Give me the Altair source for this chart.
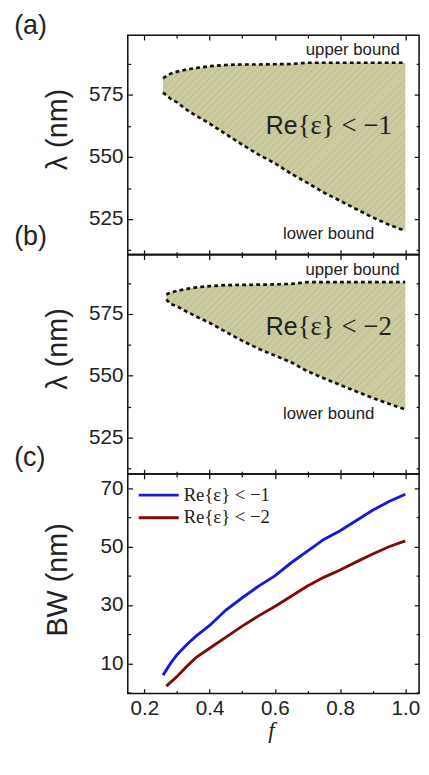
import altair as alt
import pandas as pd

# ---------------- data ----------------
f_a = [0.257, 0.28, 0.30, 0.33, 0.36, 0.40, 0.45, 0.50, 0.55, 0.60, 0.65, 0.70, 0.75, 0.80, 0.85, 0.90, 0.95, 1.00]
upper_a = [581.8, 583.6, 584.4, 585.3, 585.9, 586.6, 587.1, 587.3, 587.3, 587.4, 587.5, 588.0, 588.0, 588.0, 588.0, 588.0, 588.0, 588.0]
lower_a = [576.0, 573.5, 572.0, 569.0, 566.5, 563.5, 559.2, 555.0, 551.0, 547.5, 543.3, 539.6, 535.7, 532.4, 529.0, 525.7, 522.7, 520.3]

f_b = [0.267, 0.28, 0.30, 0.33, 0.36, 0.40, 0.45, 0.50, 0.55, 0.60, 0.65, 0.70, 0.75, 0.80, 0.85, 0.90, 0.95, 1.00]
upper_b = [583.0, 583.8, 584.5, 585.3, 585.9, 586.4, 586.8, 586.9, 587.0, 587.1, 587.3, 588.0, 588.0, 588.0, 588.0, 588.0, 588.0, 588.0]
lower_b = [581.0, 579.2, 578.2, 576.0, 574.0, 571.5, 567.8, 564.2, 561.0, 558.2, 555.5, 551.8, 549.0, 546.3, 543.6, 541.0, 538.6, 536.3]

f_bw1 = [0.257, 0.28, 0.30, 0.33, 0.36, 0.40, 0.45, 0.50, 0.55, 0.60, 0.65, 0.70, 0.75, 0.80, 0.85, 0.90, 0.95, 1.00]
bw1 = [6.0, 10.0, 13.0, 16.5, 19.5, 23.0, 28.3, 32.5, 36.5, 40.0, 44.5, 48.5, 52.5, 55.5, 59.0, 62.5, 65.5, 68.0]
f_bw2 = [0.267, 0.30, 0.33, 0.36, 0.40, 0.45, 0.50, 0.55, 0.60, 0.65, 0.70, 0.75, 0.80, 0.85, 0.90, 0.95, 1.00]
bw2 = [2.2, 5.5, 9.0, 12.2, 15.2, 19.0, 22.8, 26.3, 29.5, 33.0, 36.5, 39.5, 42.0, 44.8, 47.5, 50.0, 52.0]

series_labels = ["Re{ε} < −1", "Re{ε} < −2"]
panel_tags = ["(a)", "(b)", "(c)"]

x_major = [0.2, 0.4, 0.6, 0.8, 1.0]
x_minor = [0.3, 0.5, 0.7, 0.9]
lam_major = [525, 550, 575]
lam_minor = [512.5, 537.5, 562.5, 587.5]
bw_major = [10, 30, 50, 70]
bw_minor = [0, 20, 40, 60]

# ---------------- layout / style ----------------
W, H = 304, 229
X_DOM = [0.14886, 1.0423]
YA_DOM = [510.7, 599.1]
YB_DOM = [510.1, 599.2]
YC_DOM = [-0.3, 74.9]

FILL = "#cbcb9f"
HATCH = "#b8b892"
INK = "#111111"
TXT = "#222222"
BLUE = "#1818d8"
RED = "#7d0a0a"
SANS = "Liberation Sans"
SERIF = "Liberation Serif"

xs = alt.Scale(domain=X_DOM, nice=False, zero=False)


def tick_axis(orient, offset, values, size):
    return alt.Axis(orient=orient, offset=offset, values=values, tickSize=size,
                    tickWidth=1.3, tickColor=INK, labels=False, domain=False,
                    grid=False, title=None, minExtent=0, maxExtent=0)


def frame_layers(df, xf, yf, ys, ymaj, ymin):
    base = alt.Chart(df).mark_point(opacity=0)
    out = []
    for orient, vals, size in [("top", x_major, 5), ("top", x_minor, 3),
                               ("bottom", x_major, 5), ("bottom", x_minor, 3)]:
        out.append(base.encode(
            x=alt.X(xf, type="quantitative", scale=xs, axis=tick_axis(orient, -H, vals, size)),
            y=alt.Y(yf, type="quantitative", scale=ys, axis=None)))
    for orient, vals, size in [("right", ymaj, 5), ("right", ymin, 3),
                               ("left", ymaj, 5), ("left", ymin, 3)]:
        out.append(base.encode(
            x=alt.X(xf, type="quantitative", scale=xs, axis=None),
            y=alt.Y(yf, type="quantitative", scale=ys, axis=tick_axis(orient, -W, vals, size))))
    return out


def hatch_gradient(fs, hi, lo, ydom):
    def px(f):
        return (f - X_DOM[0]) / (X_DOM[1] - X_DOM[0]) * W

    def py(v):
        return (ydom[1] - v) / (ydom[1] - ydom[0]) * H

    w = px(max(fs)) - px(min(fs))
    h = py(min(lo)) - py(max(hi))
    a = (w + h) / (w + h * h / w)
    span = w + h
    step = 7.6 / span
    lw = 1.0 / span
    stops = [alt.GradientStop(color=FILL, offset=0)]
    t = step / 2
    while t + lw < 1:
        stops += [alt.GradientStop(color=FILL, offset=round(t, 5)),
                  alt.GradientStop(color=HATCH, offset=round(t, 5)),
                  alt.GradientStop(color=HATCH, offset=round(t + lw, 5)),
                  alt.GradientStop(color=FILL, offset=round(t + lw, 5))]
        t += step
    stops.append(alt.GradientStop(color=FILL, offset=1))
    return alt.LinearGradient(gradient="linear", stops=stops, x1=0, y1=0, x2=a, y2=a * h / w)


def text_at(txt, f, v, ys, size, font, align="center", baseline="middle"):
    return alt.Chart(pd.DataFrame({"t": [txt]})).mark_text(
        text=txt, font=font, fontSize=size, color=TXT, align=align, baseline=baseline
    ).encode(x=alt.XDatum(f, type="quantitative", scale=xs, axis=None),
             y=alt.YDatum(v, type="quantitative", scale=ys, axis=None))


def tag_text(tag, dy):
    return alt.Chart(pd.DataFrame({"t": [tag]})).mark_text(
        text=tag, font=SANS, fontSize=28, color=TXT, align="left", baseline="alphabetic"
    ).encode(x=alt.value(-118.6), y=alt.value(dy))


def region_panel(fs, hi, lo, ydom, tag, tag_dy, sign_txt, up_pos, low_pos, re_pos):
    ys = alt.Scale(domain=ydom, nice=False, zero=False)
    df = pd.DataFrame({"f": fs, "hi": hi, "lo": lo})
    area = alt.Chart(df).mark_area(fill=hatch_gradient(fs, hi, lo, ydom), opacity=1).encode(
        x=alt.X("f:Q", scale=xs, axis=None),
        y=alt.Y("lo:Q", scale=ys, axis=None),
        y2=alt.Y2("hi"))
    dash = dict(color=INK, strokeWidth=2.8, strokeDash=[4, 3.3])
    l_hi = alt.Chart(df).mark_line(**dash).encode(
        x=alt.X("f:Q", scale=xs, axis=None), y=alt.Y("hi:Q", scale=ys, axis=None))
    l_lo = alt.Chart(df).mark_line(**dash).encode(
        x=alt.X("f:Q", scale=xs, axis=None), y=alt.Y("lo:Q", scale=ys, axis=None))
    labeled = alt.Chart(df).mark_point(opacity=0).encode(
        x=alt.X("f:Q", scale=xs, axis=None),
        y=alt.Y("hi:Q", scale=ys, axis=alt.Axis(
            orient="left", values=lam_major, ticks=False, tickSize=0, domain=False,
            grid=False, labelFont=SANS, labelFontSize=21.5, labelColor=TXT, labelPadding=5,
            title="λ (nm)", titleFont=SANS, titleFontSize=30, titleFontWeight="normal",
            titleColor=TXT, titleX=-73, titleY=98, titleBaseline="middle",
            titleAlign="center", titleAngle=270)))
    texts = [
        text_at("upper bound", up_pos[0], up_pos[1], ys, 17.5, SANS),
        text_at("lower bound", low_pos[0], low_pos[1], ys, 17.5, SANS),
        text_at("Re", re_pos[0], re_pos[1], ys, 26, SANS, align="right", baseline="alphabetic"),
        text_at(sign_txt, re_pos[0], re_pos[1], ys, 28, SERIF, align="left", baseline="alphabetic"),
        tag_text(tag, tag_dy),
    ]
    layers = [area, l_hi, l_lo, labeled] + texts + frame_layers(df, "f", "hi", ys, lam_major, lam_minor)
    return alt.layer(*layers).resolve_axis(x="independent", y="independent").properties(width=W, height=H)


panel_a = region_panel(f_a, upper_a, lower_a, YA_DOM, panel_tags[0], -1.5, "{ε} < −1",
                       (0.839, 593.2), (0.765, 518.8), (0.670, 559.3))
panel_b = region_panel(f_b, upper_b, lower_b, YB_DOM, panel_tags[1], -10, "{ε} < −2",
                       (0.838, 593.0), (0.765, 534.4), (0.670, 566.6))

ysc = alt.Scale(domain=YC_DOM, nice=False, zero=False)
df_c = pd.concat([
    pd.DataFrame({"f": f_bw1, "bw": bw1, "s": series_labels[0]}),
    pd.DataFrame({"f": f_bw2, "bw": bw2, "s": series_labels[1]}),
], ignore_index=True)

bw_lines = alt.Chart(df_c).mark_line(strokeWidth=3).encode(
    x=alt.X("f:Q", scale=xs, axis=alt.Axis(
        orient="bottom", values=x_major, format=".1f", ticks=False, tickSize=0, domain=False,
        grid=False, labelFont=SANS, labelFontSize=21.5, labelColor=TXT, labelPadding=5,
        title=None)),
    y=alt.Y("bw:Q", scale=ysc, axis=alt.Axis(
        orient="left", values=bw_major, ticks=False, tickSize=0, domain=False, grid=False,
        labelFont=SANS, labelFontSize=21.5, labelColor=TXT, labelPadding=5,
        title="BW (nm)", titleFont=SANS, titleFontSize=30, titleFontWeight="normal",
        titleColor=TXT, titleX=-73, titleY=110, titleBaseline="middle",
        titleAlign="center", titleAngle=270)),
    color=alt.Color("s:N", scale=alt.Scale(domain=series_labels, range=[BLUE, RED]),
                    legend=alt.Legend(orient="none", legendX=20.3, legendY=10, title=None,
                                      symbolType="M-2,0H2", symbolSize=435, symbolStrokeWidth=3,
                                      labelFont=SERIF, labelFontSize=19.5, labelColor=TXT,
                                      labelOffset=14, rowPadding=1.6, padding=0)),
    detail="s:N")

f_title = alt.Chart(pd.DataFrame({"t": ["f"]})).mark_text(
    text="f", font=SERIF, fontStyle="italic", fontSize=24, color=TXT,
    align="center", baseline="alphabetic"
).encode(x=alt.value(150), y=alt.value(H + 46))

panel_c = alt.layer(bw_lines, f_title, tag_text(panel_tags[2], -8.5),
                    *frame_layers(df_c, "f", "bw", ysc, bw_major, bw_minor)
                    ).resolve_axis(x="independent", y="independent").properties(width=W, height=H)

chart = alt.vconcat(panel_a, panel_b, panel_c, spacing=0, bounds="flush").resolve_scale(
    color="independent"
).configure_view(stroke=INK, strokeWidth=1.6).properties(
    padding={"left": 5, "top": -13, "right": 0, "bottom": 0})

chart.save("out.html", embed_options={"renderer": "svg", "actions": False})
